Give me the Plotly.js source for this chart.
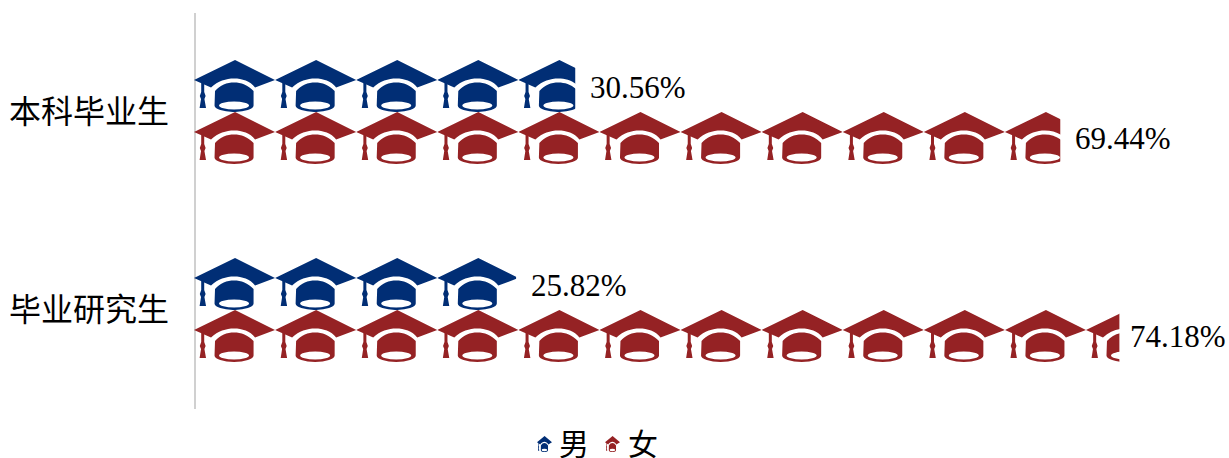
<!DOCTYPE html>
<html>
<head>
<meta charset="utf-8">
<script src="https://cdn.plot.ly/plotly-3.0.1.min.js"></script>
<style>html,body{margin:0;padding:0;background:#fff;overflow:hidden}#chart{width:1229px;height:458px}</style>
</head>
<body>
<div id="chart"></div>
<script>
const categories = ["本科毕业生", "毕业研究生"];
const male = [30.56, 25.82];
const female = [69.44, 74.18];
const seriesNames = ["男", "女"];
const seriesColors = ["#012e75", "#952224"];
const capUnit = 6.5; // percent represented by one cap

const FONT = '"Liberation Serif","Noto Sans CJK SC",serif';
const CAP_W = 81, CAP_H = 52;

function capSvg(color, fraction) {
  const w = CAP_W * fraction;
  const svg = `<svg xmlns="http://www.w3.org/2000/svg" width="${w}" height="${CAP_H}" viewBox="0 0 ${w} ${CAP_H}" preserveAspectRatio="none">` +
    `<g fill="${color}">` +
    `<path d="M0 20 L41 0 L81 20 L61 27.5 C56 21 48 18.5 40 18.5 C32 18.5 24 21 17 27.5 Z"/>` +
    `<path fill-rule="evenodd" d="M21 31 C26 25 33 22.5 40 22.5 C47 22.5 54 25 59.5 31 L59.5 45.5 A19.5 6.5 0 0 1 20.5 45.5 Z M25 45.5 A15 4 0 0 0 55 45.5 A15 4 0 0 0 25 45.5 Z"/>` +
    `<path d="M7.2 22 L10.2 23.5 L10.2 32 L11.6 36 L10.4 39 L12 48 L5.6 48 L7 39 L5.8 36 L7.2 32 Z"/>` +
    `</g></svg>`;
  return "data:image/svg+xml;base64," + btoa(svg);
}

const barThickness = 0.2625;
const images = [];
[male, female].forEach((vals, s) => {
  vals.forEach((v, c) => {
    const yTop = c + (s - 1) * barThickness;
    for (let i = 0; i * capUnit < v; i++) {
      const span = Math.min(capUnit, v - i * capUnit);
      images.push({
        source: capSvg(seriesColors[s], span / capUnit),
        xref: "x", yref: "y",
        x: i * capUnit, y: yTop,
        sizex: span, sizey: barThickness,
        xanchor: "left", yanchor: "top",
        sizing: "stretch", layer: "above"
      });
    }
  });
});

// legend icons sit on the legend swatches
[0, 1].forEach(s => {
  images.push({
    source: capSvg(seriesColors[s], 1),
    xref: "paper", yref: "paper",
    x: (s === 0 ? 537 - 194 : 605 - 194) / 998,
    y: (409 - 436) / 396,
    sizex: 15 / 998, sizey: 16 / 396,
    xanchor: "left", yanchor: "top",
    sizing: "stretch", layer: "above"
  });
});

const annotations = [];
[male, female].forEach((vals, s) => {
  vals.forEach((v, c) => {
    annotations.push({
      xref: "x", yref: "y",
      x: v, y: c + (s - 0.5) * barThickness,
      xanchor: "left", yanchor: "middle",
      xshift: v > 70 ? 9 : 13, yshift: -1,
      text: v.toFixed(2) + "%",
      showarrow: false,
      font: {family: FONT, size: 31, color: "#000"}
    });
  });
});

const traces = [male, female].map((vals, s) => ({
  type: "bar",
  orientation: "h",
  name: seriesNames[s],
  y: categories,
  x: vals,
  marker: {color: "rgba(0,0,0,0)"},
  hovertemplate: "%{y} " + seriesNames[s] + ": %{x:.2f}%<extra></extra>"
}));

const layout = {
  width: 1229, height: 458,
  margin: {l: 194, r: 37, t: 13, b: 49, pad: 0, autoexpand: false},
  paper_bgcolor: "#fff", plot_bgcolor: "#fff",
  font: {family: FONT, size: 32, color: "#000"},
  barmode: "group", bargap: 0.475, bargroupgap: 0,
  xaxis: {range: [0, 80], visible: false, showgrid: false, zeroline: false, fixedrange: true},
  yaxis: {
    type: "category", categoryorder: "array", categoryarray: categories,
    range: [1.5, -0.5],
    anchor: "free", position: 0.0015,
    showgrid: false, zeroline: false,
    showline: true, linecolor: "#d0d0d0", linewidth: 2,
    ticks: "", ticklabelstandoff: 19,
    tickfont: {family: FONT, size: 32, color: "#000"},
    fixedrange: true
  },
  showlegend: true,
  legend: {
    orientation: "h",
    x: (531 - 194) / 998, xanchor: "left",
    y: (409 - 443) / 396, yanchor: "middle",
    bgcolor: "rgba(0,0,0,0)",
    font: {family: FONT, size: 30, color: "#000"},
    indentation: -12,
    entrywidth: 36, entrywidthmode: "pixels",
    itemclick: false, itemdoubleclick: false
  },
  images, annotations
};

Plotly.newPlot("chart", traces, layout, {displayModeBar: false, responsive: false});
</script>
</body>
</html>
